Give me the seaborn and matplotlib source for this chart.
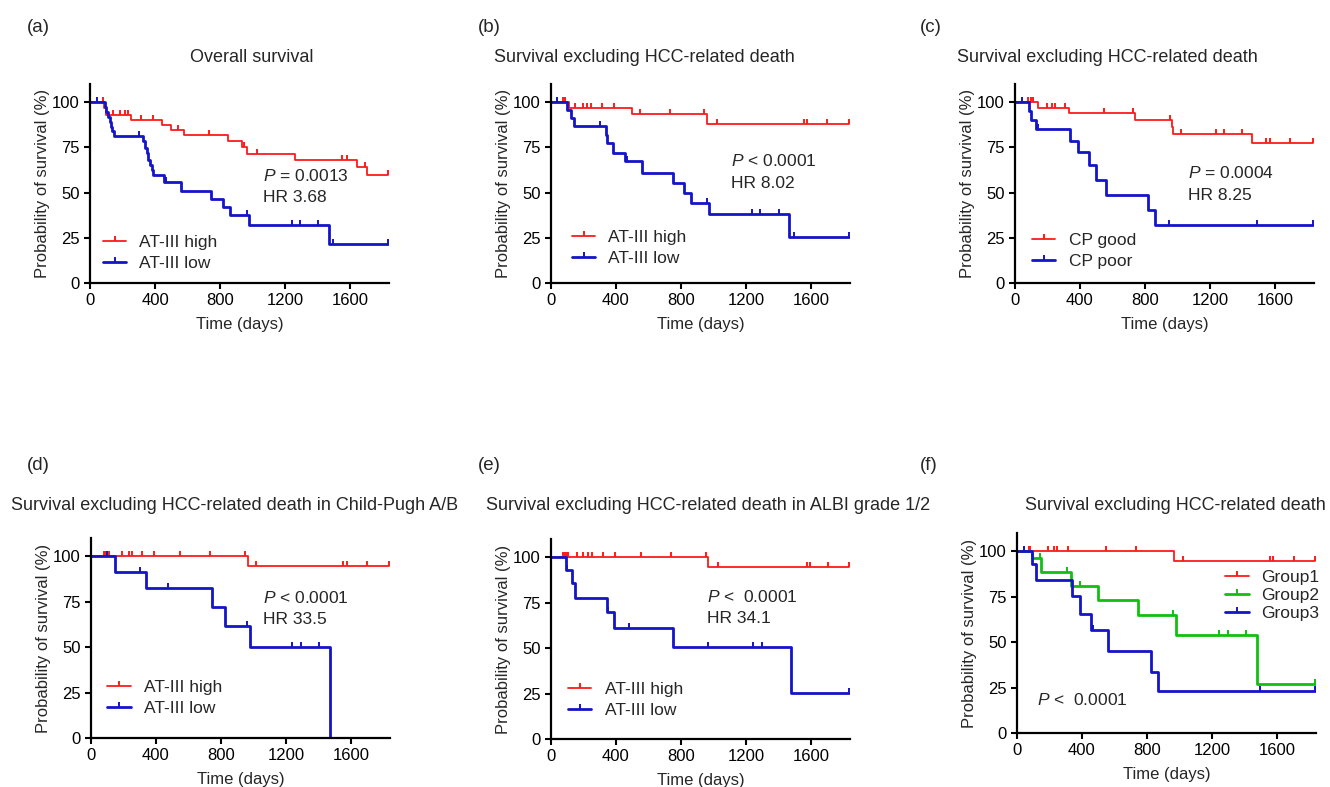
import numpy as np
import matplotlib
matplotlib.use("Agg")
import matplotlib.pyplot as plt
from matplotlib.path import Path
from matplotlib.lines import Line2D
import seaborn as sns

# ---------------- data (times in days, survival in %) ----------------
# (a) Overall survival
a_high_t = [88, 98, 252, 440, 496, 576, 851, 933, 964, 1261, 1641, 1702]
a_high_s = [96.5, 93.0, 90.2, 87.5, 84.6, 81.8, 78.6, 75.1, 71.2, 67.8, 63.9, 59.9]
a_high_c = [80, 143, 184, 215, 236, 314, 390, 544, 733, 945, 1025, 1549, 1579, 1690, 1832]
a_low_t = [90, 100, 112, 120, 128, 136, 145, 328, 338, 349, 359, 369, 379, 390, 455, 560, 742, 816, 861, 980, 1473]
a_low_s = [97.3, 94.6, 91.9, 89.2, 86.5, 83.8, 81.1, 78.3, 74.6, 71.8, 68.1, 65.4, 62.6, 59.9, 55.8,
           51.0, 46.4, 42.0, 37.8, 31.9, 21.4]
a_low_c = [41, 301, 465, 964, 1245, 1292, 1405, 1497, 1832]

# (b) Survival excluding HCC-related death
b_high_t = [110, 498, 963]
b_high_s = [97.0, 93.2, 88.0]
b_high_c = [75, 86, 147, 194, 224, 249, 314, 388, 545, 733, 943, 1024, 1555, 1575, 1697, 1832]
b_low_t = [100, 122, 143, 341, 347, 381, 453, 561, 749, 820, 861, 973, 1467]
b_low_s = [95.8, 91.2, 86.6, 82.0, 77.3, 71.8, 67.2, 60.8, 55.2, 49.7, 44.2, 38.2, 25.5]
b_low_c = [39, 304, 468, 963, 1238, 1289, 1401, 1493, 1832]

# (c) Survival excluding HCC-related death, CP good / poor
c_good_t = [140, 333, 741, 964, 975, 1461]
c_good_s = [97.0, 94.0, 90.0, 86.0, 82.2, 77.4]
c_good_c = [82, 98, 110, 194, 225, 245, 306, 548, 729, 954, 1021, 1236, 1287, 1399, 1542, 1567, 1690, 1832]
c_poor_t = [88, 100, 127, 341, 388, 456, 497, 558, 817, 864]
c_poor_s = [95.0, 90.2, 85.0, 78.5, 72.5, 65.3, 57.1, 48.6, 40.4, 32.3]
c_poor_c = [41, 143, 946, 1491, 1832]

# (d) Child-Pugh A/B
d_high_t = [967]
d_high_s = [94.5]
d_high_c = [78, 88, 98, 108, 190, 231, 252, 313, 388, 548, 732, 946, 1018, 1549, 1574, 1697, 1832]
d_low_t = [149, 337, 746, 824, 977, 1468]
d_low_s = [91.5, 82.5, 72.0, 61.7, 50.1, 0.0]
d_low_c = [98, 302, 472, 963, 1239, 1294, 1402]

# (e) ALBI grade 1/2
e_high_t = [968]
e_high_s = [94.5]
e_high_c = [76, 86, 96, 107, 158, 199, 230, 250, 318, 394, 551, 738, 951, 1029, 1575, 1595, 1706, 1832]
e_low_t = [92, 127, 148, 342, 387, 752, 1474]
e_low_s = [93.0, 85.7, 77.4, 70.1, 60.9, 50.8, 25.5]
e_low_c = [100, 350, 480, 968, 1244, 1296, 1832]

# (f) three groups
f_g1_t = [964]
f_g1_s = [94.5]
f_g1_c = [72, 82, 191, 225, 246, 314, 549, 734, 1021, 1554, 1574, 1702, 1832]
f_g2_t = [92, 150, 334, 498, 744, 978, 1476]
f_g2_s = [96.0, 88.6, 80.9, 73.0, 64.8, 53.8, 27.2]
f_g2_c = [140, 308, 390, 959, 1246, 1298, 1410, 1832]
f_g3_t = [92, 119, 338, 386, 457, 560, 824, 865]
f_g3_s = [93.0, 84.0, 75.5, 65.7, 56.5, 45.3, 33.6, 22.9]
f_g3_c = [41, 466, 1497, 1832]

panel_labels = ["(a)", "(b)", "(c)", "(d)", "(e)", "(f)"]
titles = ["Overall survival",
          "Survival excluding HCC-related death",
          "Survival excluding HCC-related death",
          "Survival excluding HCC-related death in Child-Pugh A/B",
          "Survival excluding HCC-related death in ALBI grade 1/2",
          "Survival excluding HCC-related death"]
legend_ab = ["AT-III high", "AT-III low"]
legend_c = ["CP good", "CP poor"]
legend_f = ["Group1", "Group2", "Group3"]
p_texts = ["$\\mathit{P}$ = 0.0013", "$\\mathit{P}$ < 0.0001", "$\\mathit{P}$ = 0.0004",
           "$\\mathit{P}$ < 0.0001", "$\\mathit{P}$ <  0.0001", "$\\mathit{P}$ <  0.0001"]
hr_texts = ["HR 3.68", "HR 8.02", "HR 8.25", "HR 33.5", "HR 34.1", None]
x_ticks = [0, 400, 800, 1200, 1600]
y_ticks = [0, 25, 50, 75, 100]

# ---------------- style ----------------
sns.set_style("ticks")
plt.rcParams["font.family"] = ["Liberation Sans", "DejaVu Sans"]
plt.rcParams["mathtext.fontset"] = "custom"
plt.rcParams["mathtext.it"] = "Liberation Sans:italic"
plt.rcParams["mathtext.rm"] = "Liberation Sans"

RED = "#FF1A1A"
BLUE = "#1414C8"
GREEN = "#10C010"
TICK = Path([(0, 0), (0, 1)], [Path.MOVETO, Path.LINETO])
XMAX = 1840

W, H = 1330, 787
fig = plt.figure(figsize=(W / 100, H / 100), dpi=100)


def add_ax(left, bottom, top, width=299):
    return fig.add_axes([left / W, (H - bottom) / H, width / W, (bottom - top) / H])


def km(ax, t, s, c, color, lw, end=None):
    t = np.asarray(t, float)
    s = np.asarray(s, float)
    end = max(c) if end is None else end
    xs = np.r_[0, t, end]
    ys = np.r_[100, s, s[-1]]
    sns.lineplot(x=xs, y=ys, ax=ax, color=color, lw=lw, drawstyle="steps-post",
                 estimator=None, sort=False, legend=False)
    cs = np.asarray(c, float)
    idx = np.searchsorted(t, cs, side="right")
    cy = np.r_[100, s][idx]
    ax.plot(cs, cy, ls="none", marker=TICK, ms=6.5, mew=1.4, color=color, clip_on=False)


def style(ax):
    ax.set_xlim(0, XMAX)
    ax.set_ylim(0, 110)
    ax.set_xticks(x_ticks)
    ax.set_yticks(y_ticks)
    sns.despine(ax=ax)
    for sp in ["left", "bottom"]:
        ax.spines[sp].set_linewidth(1.6)
        ax.spines[sp].set_color("black")
    ax.tick_params(direction="out", length=4, width=1.5, labelsize=12, colors="black", pad=3.5)
    ax.set_xlabel("Time (days)", fontsize=12, labelpad=6)
    ax.set_ylabel("Probability of survival (%)", fontsize=12, labelpad=1.5)


def legend(ax, labels, colors, lws, loc, anchor, spacing=0.35):
    handles = [Line2D([], [], color=c, lw=lw, marker=TICK, ms=6.5, mew=1.4) for c, lw in zip(colors, lws)]
    ax.legend(handles, labels, loc=loc, bbox_to_anchor=anchor, frameon=False, fontsize=12.5,
              handlelength=1.35, handletextpad=0.75, labelspacing=spacing, borderpad=0,
              borderaxespad=0, numpoints=1)


axes = [add_ax(90, 283, 84), add_ax(551, 283, 84), add_ax(1015, 283, 84),
        add_ax(91, 738, 538), add_ax(551, 739, 539), add_ax(1017, 733, 533)]

LW_R, LW_B = 1.3, 2.0

# (a)
ax = axes[0]
km(ax, a_high_t, a_high_s, a_high_c, RED, LW_R)
km(ax, a_low_t, a_low_s, a_low_c, BLUE, LW_B)
# (b)
ax = axes[1]
km(ax, b_high_t, b_high_s, b_high_c, RED, LW_R)
km(ax, b_low_t, b_low_s, b_low_c, BLUE, LW_B)
# (c)
ax = axes[2]
km(ax, c_good_t, c_good_s, c_good_c, RED, LW_R)
km(ax, c_poor_t, c_poor_s, c_poor_c, BLUE, LW_B)
# (d)
ax = axes[3]
km(ax, d_high_t, d_high_s, d_high_c, RED, LW_R)
km(ax, d_low_t, d_low_s, d_low_c, BLUE, LW_B, end=d_low_t[-1])
# (e)
ax = axes[4]
km(ax, e_high_t, e_high_s, e_high_c, RED, LW_R)
km(ax, e_low_t, e_low_s, e_low_c, BLUE, LW_B)
# (f)
ax = axes[5]
km(ax, f_g1_t, f_g1_s, f_g1_c, RED, LW_R)
km(ax, f_g2_t, f_g2_s, f_g2_c, GREEN, LW_B)
km(ax, f_g3_t, f_g3_s, f_g3_c, BLUE, LW_B)

for ax in axes:
    style(ax)

legend(axes[0], legend_ab, [RED, BLUE], [LW_R, LW_B], "lower left", (0.043, 0.06))
legend(axes[1], legend_ab, [RED, BLUE], [LW_R, LW_B], "lower left", (0.07, 0.085))
legend(axes[2], legend_c, [RED, BLUE], [LW_R, LW_B], "lower left", (0.057, 0.07))
legend(axes[3], legend_ab, [RED, BLUE], [LW_R, LW_B], "lower left", (0.054, 0.11))
legend(axes[4], legend_ab, [RED, BLUE], [LW_R, LW_B], "lower left", (0.057, 0.105))
legend(axes[5], legend_f, [RED, GREEN, BLUE], [LW_R, LW_B, LW_B], "upper left", (0.696, 0.815), spacing=0.15)

p_pos = [(1067, 59.3), (1106, 67.2), (1062, 60.6), (1059, 77.0), (957, 78.3), (123, 18.0)]
hr_y = [47.5, 55.2, 48.3, 65.4, 66.4, None]
for ax, pt, hr, (px, py), hy in zip(axes, p_texts, hr_texts, p_pos, hr_y):
    ax.text(px, py, pt, fontsize=12.5, ha="left", va="center")
    if hr is not None:
        ax.text(px, hy, hr, fontsize=12.5, ha="left", va="center")

label_x = [27, 478, 920, 27, 478, 920]
label_y = [28, 28, 28, 466, 466, 466]
title_x = [252, 644, 1107, 235, 708, 1175]
title_y = [57, 57, 57, 505, 505, 505]
for lab, lx, ly in zip(panel_labels, label_x, label_y):
    fig.text(lx / W, 1 - ly / H, lab, fontsize=13.5, ha="left", va="center")
for tt, tx, ty in zip(titles, title_x, title_y):
    fig.text(tx / W, 1 - ty / H, tt, fontsize=13, ha="center", va="center")

fig.savefig("out.png", dpi=100)
